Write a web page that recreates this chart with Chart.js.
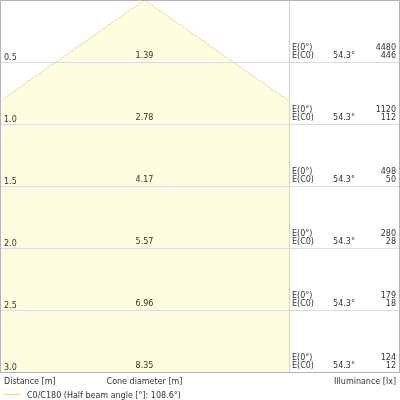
<!DOCTYPE html>
<html><head><meta charset="utf-8">
<script src="https://cdn.jsdelivr.net/npm/chart.js@4"></script>
<style>html,body{margin:0;padding:0;background:#fff}canvas{display:block}</style>
</head><body>
<canvas id="c" width="400" height="400"></canvas>
<script>
const distances = [0.5, 1.0, 1.5, 2.0, 2.5, 3.0];
const distanceLabels = ['0.5', '1.0', '1.5', '2.0', '2.5', '3.0'];
const diameters = [1.39, 2.78, 4.17, 5.57, 6.96, 8.35];
const diameterLabels = ['1.39', '2.78', '4.17', '5.57', '6.96', '8.35'];
const e0 = [4480, 1120, 498, 280, 179, 124];
const ec0 = [446, 112, 50, 28, 18, 12];
const halfAngle = '54.3°';
const legendLabel = 'C0/C180 (Half beam angle [°]: 108.6°)';
const axisTitles = ['Distance [m]', 'Cone diameter [m]', 'Illuminance [lx]'];

const FONT = '8px "DejaVu Sans"';
const TXT = '#333333';
const last = distances.length - 1;
const conePts = [
  {x: -diameters[last] / 2, y: distances[last]},
  {x: 0, y: 0},
  {x: diameters[last] / 2, y: distances[last]}
];

const overlay = {
  id: 'overlay',
  afterDatasetsDraw(chart) {
    const ctx = chart.ctx, ys = chart.scales.y, xs = chart.scales.x, a = chart.chartArea;
    const W = 399;
    ctx.save();
    ctx.strokeStyle = '#dcdcdc'; ctx.lineWidth = 1;
    distances.forEach((d, i) => {
      if (i === last) return;
      const y = Math.round(ys.getPixelForValue(d)) + 0.5;
      ctx.beginPath(); ctx.moveTo(0, y); ctx.lineTo(W, y); ctx.stroke();
    });
    ctx.strokeStyle = '#b4b4b4';
    const yb = Math.round(ys.getPixelForValue(distances[last])) + 0.5;
    ctx.beginPath();
    ctx.moveTo(0.5, yb); ctx.lineTo(0.5, 0.5); ctx.lineTo(W + 0.5, 0.5); ctx.lineTo(W + 0.5, yb);
    ctx.stroke();
    ctx.beginPath(); ctx.moveTo(0, yb); ctx.lineTo(400, yb); ctx.stroke();
    const xr = Math.round(a.right) + 0.5;
    ctx.strokeStyle = '#cfcfcf';
    ctx.beginPath(); ctx.moveTo(xr, 0); ctx.lineTo(xr, yb); ctx.stroke();
    ctx.font = FONT; ctx.fillStyle = TXT; ctx.textBaseline = 'alphabetic';
    const cx = xs.getPixelForValue(0);
    distances.forEach((d, i) => {
      const y = ys.getPixelForValue(d);
      ctx.textAlign = 'left';
      ctx.fillText(distanceLabels[i], 4, y - 2.5);
      ctx.fillText('E(0°)', a.right + 3, y - 12);
      ctx.fillText('E(C0)', a.right + 3, y - 4);
      ctx.textAlign = 'center';
      ctx.fillText(diameterLabels[i], cx, y - 4.5);
      ctx.fillText(halfAngle, 344, y - 4);
      ctx.textAlign = 'right';
      ctx.fillText(String(e0[i]), 396, y - 12);
      ctx.fillText(String(ec0[i]), 396, y - 4);
    });
    ctx.textAlign = 'left';
    ctx.fillText(axisTitles[0], 4, 384);
    ctx.textAlign = 'center';
    ctx.fillText(axisTitles[1], cx, 384);
    ctx.textAlign = 'right';
    ctx.fillText(axisTitles[2], 396, 384);
    ctx.strokeStyle = '#fcd3a0'; ctx.lineWidth = 1.5;
    ctx.beginPath(); ctx.moveTo(4, 394.5); ctx.lineTo(21, 394.5); ctx.stroke();
    ctx.textAlign = 'left';
    ctx.fillText(legendLabel, 27, 397.5);
    ctx.restore();
  }
};

new Chart(document.getElementById('c'), {
  type: 'scatter',
  data: {
    datasets: [{
      label: legendLabel,
      data: conePts,
      showLine: true,
      borderColor: '#fcd3a0',
      borderWidth: 1,
      backgroundColor: '#fffde0',
      fill: {value: distances[last]},
      pointRadius: 0,
      tension: 0
    }]
  },
  options: {
    responsive: false,
    animation: false,
    devicePixelRatio: 1,
    layout: {padding: {left: 0, top: 0, right: 111, bottom: 28}},
    plugins: {legend: {display: false}, tooltip: {enabled: false}},
    scales: {
      x: {type: 'linear', display: false, min: -1.135, max: 1.135},
      y: {type: 'linear', display: false, min: 0, max: 3, reverse: true}
    }
  },
  plugins: [overlay]
});
</script>
</body></html>
